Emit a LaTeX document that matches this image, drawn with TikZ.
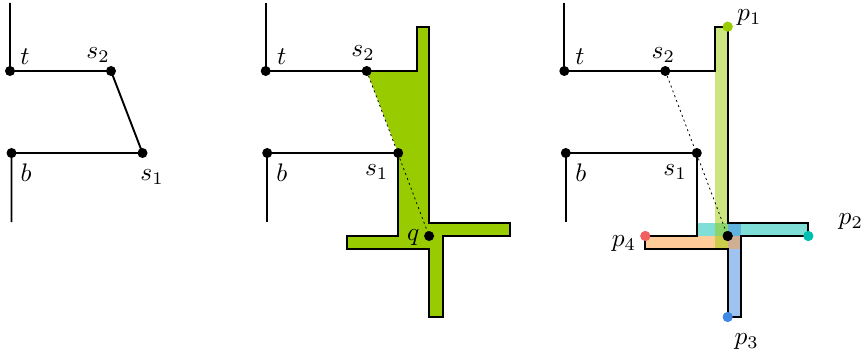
\documentclass[tikz,border=0pt]{standalone}
\begin{document}
\begin{tikzpicture}[x=0.5pt,y=-0.5pt,
  dot/.style={circle,fill=black,inner sep=0pt,minimum size=5pt},
  cdot/.style={circle,fill=#1,inner sep=0pt,minimum size=5pt},
  edge/.style={line width=0.95pt,line join=miter},
  dotline/.style={line width=0.4pt,dash pattern=on 1pt off 1.6pt},
  lbl/.style={inner sep=0pt,scale=1.27,transform shape}]
\definecolor{lime}{HTML}{99CC00}
\definecolor{tealc}{HTML}{00BFB0}
\definecolor{bluec}{HTML}{3F88E3}
\definecolor{orangec}{HTML}{FF9933}
\definecolor{redc}{HTML}{F06060}
\useasboundingbox (0,0) rectangle (862,358);

% ---------- panel 1 ----------
\begin{scope}[shift={(10,71)}]
  \coordinate (a1top) at (0,-68);
  \coordinate (a1bot) at (1.5,151);
  \node[dot] (a1t) at (0,0) {};
  \node[dot] (a1s2) at (101,0) {};
  \node[dot] (a1b) at (1.5,82) {};
  \node[dot] (a1s1) at (132.5,82) {};
  \draw[edge] (a1top) -- (a1t.center) -- (a1s2.center) -- (a1s1.center) -- (a1b.center) -- (a1bot);
  \node[lbl] (a1lt) at (15,-14) {$t$};
  \node[lbl] (a1ls2) at (88,-16) {$s_2$};
  \node[lbl] (a1lb) at (16,102) {$b$};
  \node[lbl] (a1ls1) at (142,106) {$s_1$};
\end{scope}

% ---------- panel 2 ----------
\begin{scope}[shift={(265.7,71)}]
  \coordinate (b2top) at (0,-68);
  \coordinate (b2bot) at (1.5,151);
  \fill[lime] (101,0) -- (151,0) -- (151,-44.3) -- (163.4,-44.3) -- (163.4,151.7) -- (244,151.7) -- (244,165) -- (177,165) -- (177,246) -- (163.4,246) -- (163.4,178.3) -- (81,178.3) -- (81,165) -- (132.5,165) -- (132.5,82) -- cycle;
  \node[dot] (b2t) at (0,0) {};
  \node[dot] (b2b) at (1.5,82) {};
  \node[dot] (b2s2) at (101,0) {};
  \node[dot] (b2s1) at (132.5,82) {};
  \node[dot] (b2q) at (163.4,165) {};
  \draw[dotline] (b2s2.center) -- (b2q.center);
  \draw[edge] (b2top) -- (b2t.center) -- (b2s2.center) -- (151,0) -- (151,-44.3) -- (163.4,-44.3) -- (163.4,151.7) -- (244,151.7) -- (244,165) -- (177,165) -- (177,246) -- (163.4,246) -- (163.4,178.3) -- (81,178.3) -- (81,165) -- (132.5,165) -- (b2s1.center) -- (b2b.center) -- (b2bot);
  \node[lbl] (b2lt) at (16,-14) {$t$};
  \node[lbl] (b2ls2) at (97.3,-18) {$s_2$};
  \node[lbl] (b2lb) at (16,102) {$b$};
  \node[lbl] (b2ls1) at (111,101) {$s_1$};
  \node[lbl] (b2lq) at (147.6,166) {$q$};
\end{scope}

% ---------- panel 3 ----------
\begin{scope}[shift={(564.3,71)}]
  \coordinate (c3top) at (0,-68);
  \coordinate (c3bot) at (1.5,151);
  \fill[tealc,opacity=0.5] (132.5,151.7) rectangle (244,165);
  \fill[bluec,opacity=0.5] (163.4,151.7) rectangle (177,246);
  \fill[orangec,opacity=0.5] (81,165) rectangle (177,178.3);
  \fill[lime,opacity=0.5] (151,-44.3) rectangle (163.4,178.3);
  \node[dot] (c3t) at (0,0) {};
  \node[dot] (c3b) at (1.5,82) {};
  \node[dot] (c3s2) at (101,0) {};
  \node[dot] (c3s1) at (132.5,82) {};
  \node[dot] (c3q) at (163.4,165) {};
  \node[cdot=lime] (c3p1) at (163.4,-44.3) {};
  \node[cdot=tealc] (c3p2) at (244,165) {};
  \node[cdot=bluec] (c3p3) at (163.4,246) {};
  \node[cdot=redc] (c3p4) at (81,165) {};
  \draw[dotline] (c3s2.center) -- (c3q.center);
  \draw[edge] (c3top) -- (c3t.center) -- (c3s2.center) -- (151,0) -- (151,-44.3) -- (c3p1.center) -- (163.4,151.7) -- (244,151.7) -- (c3p2.center) -- (177,165) -- (177,246) -- (c3p3.center) -- (163.4,178.3) -- (81,178.3) -- (c3p4.center) -- (132.5,165) -- (c3s1.center) -- (c3b.center) -- (c3bot);
  \node[dot] at (c3q) {};
  \node[cdot=lime] at (c3p1) {};
  \node[cdot=tealc] at (c3p2) {};
  \node[cdot=bluec] at (c3p3) {};
  \node[cdot=redc] at (c3p4) {};
  \node[lbl] (c3lt) at (15.7,-14) {$t$};
  \node[lbl] (c3ls2) at (99,-16) {$s_2$};
  \node[lbl] (c3lb) at (16.4,102) {$b$};
  \node[lbl] (c3ls1) at (110.7,101) {$s_1$};
  \node[lbl] (c3lp1) at (185,-53) {$p_1$};
  \node[lbl] (c3lp2) at (286.5,151) {$p_2$};
  \node[lbl] (c3lp3) at (182.4,270.7) {$p_3$};
  \node[lbl] (c3lp4) at (59.7,172.3) {$p_4$};
\end{scope}
\end{tikzpicture}
\end{document}
